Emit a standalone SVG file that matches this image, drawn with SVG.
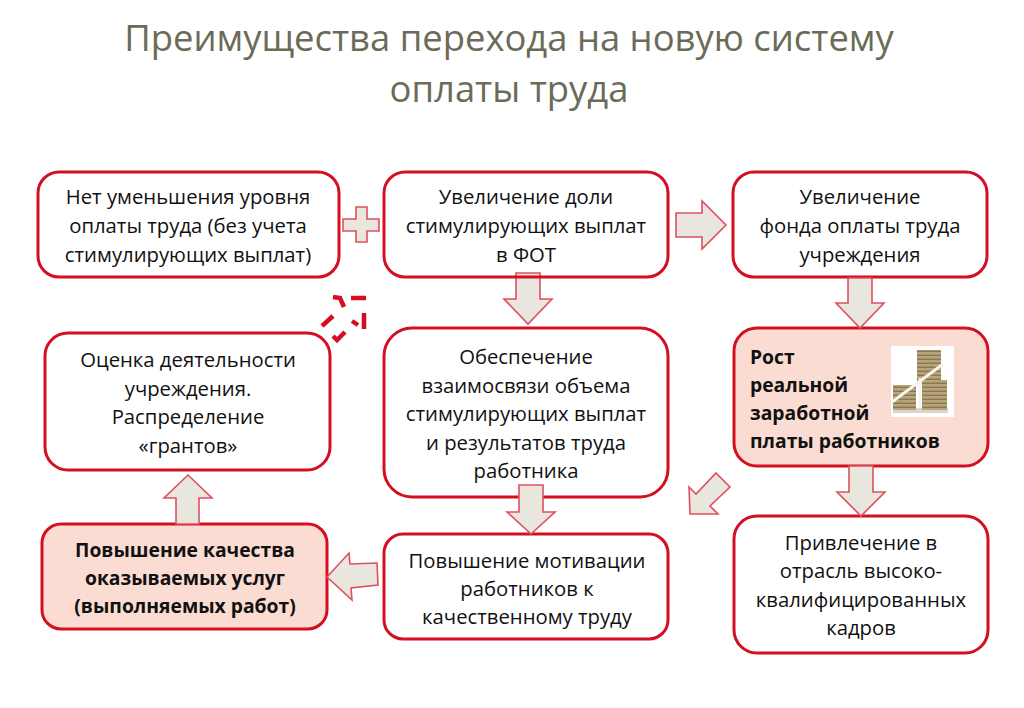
<svg xmlns="http://www.w3.org/2000/svg" width="1024" height="708" viewBox="0 0 1024 708">
<defs>
<pattern id="coins" width="5" height="4" patternUnits="userSpaceOnUse"><rect width="5" height="4" fill="#b8a47a"/><rect y="2.6" width="5" height="1.4" fill="#8a7853"/></pattern>
</defs>
<style>
text{font-family:"Open Sans","Noto Sans","DejaVu Sans",sans-serif;text-anchor:middle;fill:#111}
.t{font-size:36.4px;fill:#6b6b58}
.b{fill:#fff;stroke:#d40f20;stroke-width:3}
.p{fill:#fbdcd2;stroke:#d40f20;stroke-width:3}
.l{font-size:20.3px}
.h{font-size:19.3px;font-weight:700}
.s{text-anchor:start}
.a{fill:#e9e7dd;stroke:#dc5060;stroke-width:1.6}
.d{fill:none;stroke:#d40f20;stroke-width:4.5}
</style>
<rect width="1024" height="708" fill="#fff"/>
<g id="title"><text class="t" x="509" y="51">Преимущества перехода на новую систему</text><text class="t" x="509" y="102">оплаты труда</text></g>
<g id="n1"><rect class="b" x="38" y="172" width="301" height="105" rx="21"/><text class="l" x="188" y="204">Нет уменьшения уровня</text><text class="l" x="188" y="233">оплаты труда (без учета</text><text class="l" x="188" y="262">стимулирующих выплат)</text></g>
<g id="n2"><rect class="b" x="384" y="172" width="284" height="105" rx="21"/><text class="l" x="526" y="204">Увеличение доли</text><text class="l" x="526" y="233">стимулирующих выплат</text><text class="l" x="526" y="262">в ФОТ</text></g>
<g id="n3"><rect class="b" x="733" y="172" width="254" height="105" rx="21"/><text class="l" x="860" y="204">Увеличение</text><text class="l" x="860" y="233">фонда оплаты труда</text><text class="l" x="860" y="262">учреждения</text></g>
<g id="n4"><rect class="b" x="45" y="333" width="285" height="137" rx="23"/><text class="l" x="188" y="367">Оценка деятельности</text><text class="l" x="188" y="396">учреждения.</text><text class="l" x="188" y="424">Распределение</text><text class="l" x="188" y="453">«грантов»</text></g>
<g id="n5"><rect class="b" x="384" y="328" width="284" height="169" rx="28"/><text class="l" x="526" y="364">Обеспечение</text><text class="l" x="526" y="393">взаимосвязи объема</text><text class="l" x="526" y="421">стимулирующих выплат</text><text class="l" x="526" y="450">и результатов труда</text><text class="l" x="526" y="478">работника</text></g>
<g id="n6"><rect class="p" x="734" y="328" width="254" height="138" rx="23"/>
<g id="picture"><rect x="891" y="346" width="63" height="71" fill="#fff"/><rect x="893" y="408" width="55" height="5" fill="#d9d6cc"/><rect x="893" y="385" width="23" height="25" fill="url(#coins)"/><rect x="917" y="350" width="24" height="32" fill="url(#coins)"/><rect x="922" y="380" width="25" height="30" fill="url(#coins)"/><path d="M892 402l51-38" stroke="#f6f4ec" stroke-width="3" fill="none"/><path d="M920 378v30" stroke="#f6f4ec" stroke-width="3" fill="none"/></g>
<text class="h s" x="750" y="364">Рост</text><text class="h s" x="750" y="392">реальной</text><text class="h s" x="750" y="420">заработной</text><text class="h s" x="750" y="448">платы работников</text></g>
<g id="n7"><rect class="p" x="42" y="524" width="285" height="105" rx="19"/><text class="h" x="185" y="557">Повышение качества</text><text class="h" x="185" y="585">оказываемых услуг</text><text class="h" x="185" y="613">(выполняемых работ)</text></g>
<g id="n8"><rect class="b" x="384" y="534" width="284" height="105" rx="19"/><text class="l" x="527" y="568">Повышение мотивации</text><text class="l" x="527" y="596">работников к</text><text class="l" x="527" y="624">качественному труду</text></g>
<g id="n9"><rect class="b" x="734" y="516" width="254" height="137" rx="23"/><text class="l" x="861" y="550">Привлечение в</text><text class="l" x="861" y="578">отрасль высоко-</text><text class="l" x="861" y="607">квалифицированных</text><text class="l" x="861" y="635">кадров</text></g>
<g id="connectors">
<path class="a" d="M356 207h11v12h12v12h-12v11h-11v-11h-13v-12h13z"/>
<path class="a" d="M676 213h26v-12l24 24-24 24v-12h-26z"/>
<path class="a" d="M516 273h24v26h12l-24 25-24-25h12z"/>
<path d="M515 277h26" stroke="#d40f20" stroke-width="3" fill="none"/>
<path class="a" d="M848 278h24v25h12l-24 25-24-25h12z"/>
<path class="a" d="M849 466h24v26h12l-24 24-24-24h12z"/>
<path class="a" d="M519 485h24v27h12l-24 22-24-22h12z"/>
<path class="a" d="M716 473l14 14-20 19 8 8-28 0-1-27 7 7z"/>
<path class="a" d="M327 577l22-24 1 11 27-1 1 22-27 3 1 12z"/>
<path class="a" d="M176 524v-26h-12l24-23 24 23h-13v26z"/>
<g class="d"><path d="M333 297l7 1 4 9"/><path d="M351 298h15"/><path d="M352 321l6 4M364 313v16"/><path d="M322 326l11-10"/><path d="M333 336l4 4 8-8"/></g>
</g>
</svg>
